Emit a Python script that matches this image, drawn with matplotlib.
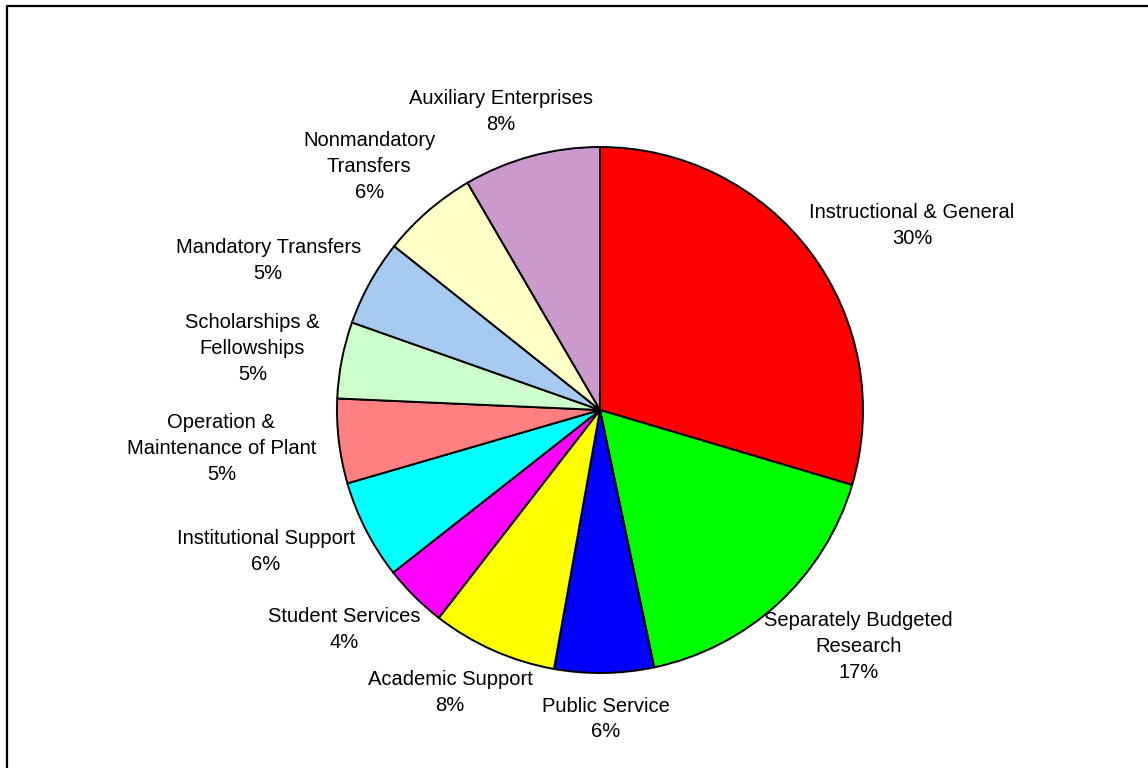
import numpy as np
import matplotlib
matplotlib.use('Agg')
import matplotlib.pyplot as plt

# Budget shares, clockwise from 12 o'clock
categories = ['Instructional & General', 'Separately Budgeted\nResearch', 'Public Service',
              'Academic Support', 'Student Services', 'Institutional Support',
              'Operation &\nMaintenance of Plant', 'Scholarships &\nFellowships',
              'Mandatory Transfers', 'Nonmandatory\nTransfers', 'Auxiliary Enterprises']
shares = [29.6, 17.1, 6.1, 7.7, 3.9, 6.1, 5.2, 4.7, 5.3, 5.9, 8.4]
colors = ['#FF0000', '#00FF00', '#0000FF', '#FFFF00', '#FF00FF', '#00FFFF',
          '#FF8080', '#CCFFCC', '#A6CAF0', '#FFFFC8', '#CC99CC']

plt.rcParams['font.family'] = ['Liberation Sans', 'DejaVu Sans']

W, H = 1148, 768
fig = plt.figure(figsize=(W / 100, H / 100), dpi=100)
ax = fig.add_axes([0, 0, 1, 1])

cx, cy, r = 600, H - 410, 263
wedges, _ = ax.pie(shares, colors=colors, startangle=90, counterclock=False,
                   center=(cx, cy), radius=r, frame=True,
                   wedgeprops=dict(edgecolor='black', linewidth=1.4))
ax.set_xlim(0, W)
ax.set_ylim(0, H)
ax.set_aspect('equal')
ax.axis('off')

# labels outside the pie: the box edge facing the pie sits on a ring just outside it
renderer = fig.canvas.get_renderer()
total = sum(shares)
for w, name, val in zip(wedges, categories, shares):
    theta = np.deg2rad((w.theta1 + w.theta2) / 2)
    c, s = np.cos(theta), np.sin(theta)
    txt = ax.text(0, 0, f"{name}\n{round(val / total * 100):.0f}%", ha='center', va='center',
                  multialignment='center', fontsize=14.5, linespacing=1.45)
    bb = txt.get_window_extent(renderer)
    d = r * 1.09
    txt.set_position((cx + d * c + c * bb.width / 2, cy + d * s + s * bb.height / 2))

# chart area border (top and left edges only)
ax.plot([7, 7, W], [0, H - 5.5, H - 5.5], color='black', linewidth=1.6, clip_on=False)

fig.savefig('out.png', dpi=100)
